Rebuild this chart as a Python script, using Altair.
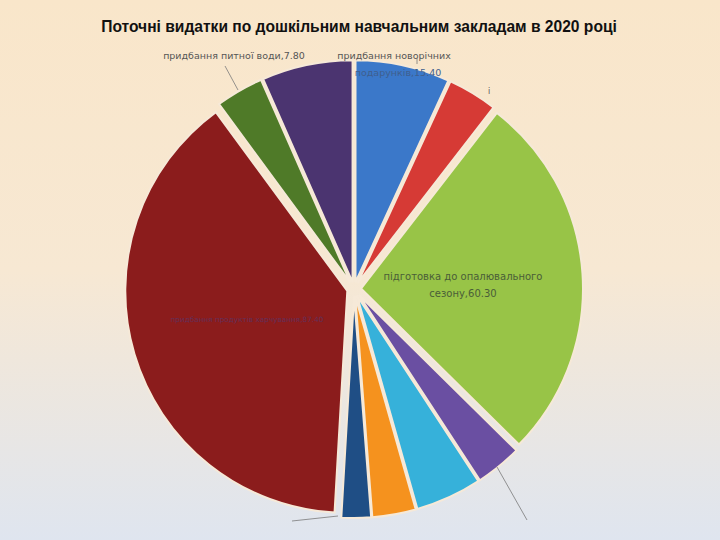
import math
import altair as alt
import pandas as pd

# ---- data (clockwise from 12 o'clock) ----
categories = [
    "придбання новорічних подарунків",
    "інші видатки (1)",
    "підготовка до опалювального сезону",
    "інші видатки (2)",
    "інші видатки (3)",
    "інші видатки (4)",
    "інші видатки (5)",
    "придбання продуктів харчування",
    "придбання питної води",
    "інші видатки (6)",
]
values = [15.40, 8.10, 60.30, 7.60, 10.80, 7.10, 4.80, 87.40, 7.80, 14.80]
colors = ["#3b78c9", "#d63a35", "#98c447", "#6a4fa2", "#36b1da",
          "#f5921e", "#1f4e85", "#8b1c1c", "#4f7a28", "#4b3470"]

W, H = 720, 540
CX, CY, R, E = 354, 289, 222, 7
TOTAL = sum(values)

df = pd.DataFrame({"category": categories, "value": values,
                   "order": list(range(len(values)))})

bg = alt.Chart(pd.DataFrame({"a": [0]})).mark_rect(
    color=alt.LinearGradient(
        gradient="linear",
        stops=[alt.GradientStop(offset=0, color="#f9e6ca"),
               alt.GradientStop(offset=0.5, color="#f7e8d3"),
               alt.GradientStop(offset=1, color="#dfe5ef")],
        x1=0, x2=0, y1=0, y2=1)
).encode(x=alt.value(0), x2=alt.value(W), y=alt.value(0), y2=alt.value(H))

pie = (
    alt.Chart(df)
    .transform_window(cum="sum(value)", sort=[alt.SortField("order")], frame=[None, 0])
    .transform_joinaggregate(total="sum(value)")
    .transform_calculate(start="datum.cum - datum.value")
    .transform_calculate(mid="(datum.cum - datum.value/2)/datum.total*2*PI")
    .transform_calculate(cx=f"{CX} + {E}*sin(datum.mid)")
    .transform_calculate(cy=f"{CY} - {E}*cos(datum.mid)")
    .mark_arc(outerRadius=R, stroke="#f6e9d8", strokeWidth=2)
    .encode(
        theta=alt.Theta("start:Q", stack=None,
                        scale=alt.Scale(domain=[0, TOTAL], range=[0, 2 * math.pi])),
        theta2="cum:Q",
        x=alt.X("cx:Q", scale=None),
        y=alt.Y("cy:Q", scale=None),
        color=alt.Color("category:N", scale=alt.Scale(domain=categories, range=colors),
                        legend=None),
    )
)

one = pd.DataFrame({"a": [0]})


def label(text, x, y, size=9.5, color="#444444", weight="normal", font="DejaVu Sans",
          opacity=1.0):
    return alt.Chart(one).mark_text(
        text=text, fontSize=size, color=color, fontWeight=weight, font=font,
        align="center", baseline="middle", opacity=opacity
    ).encode(x=alt.value(x), y=alt.value(y))


def rule(x1, y1, x2, y2):
    return alt.Chart(one).mark_rule(color="#7a7a7a", strokeWidth=0.8).encode(
        x=alt.value(x1), y=alt.value(y1), x2=alt.value(x2), y2=alt.value(y2))


title = label("Поточні видатки по дошкільним навчальним закладам в 2020 році",
              359, 27, size=15.6, color="#111111", weight="bold", font="Liberation Sans")

texts = [
    label("придбання питної води,7.80", 234, 56, color="#555555"),
    label("придбання новорічних", 394, 56, color="#555555"),
    label("подарунків,15.40", 398, 73, color="#3f5f8e"),
    label("підготовка до опалювального", 463, 277, size=10, color="#4a5e38"),
    label("сезону,60.30", 463, 294, size=10, color="#4a5e38"),
    label("придбання продуктів харчування,87.40", 247, 320, size=7.3,
          color="#5c3468", opacity=0.8),
    label("і", 489, 92, size=8, color="#555555"),
]

lines = [
    rule(225, 66, 238, 90),
    rule(417, 58, 417, 64),
    rule(497, 467, 527, 520),
    rule(292, 521, 338, 516),
]

chart = alt.layer(bg, pie, title, *texts, *lines).properties(
    width=W, height=H, padding=0, autosize="none", background="#f7e7d0"
).configure_view(strokeWidth=0)

chart.save("out.html", embed_options={"renderer": "svg", "actions": False})
